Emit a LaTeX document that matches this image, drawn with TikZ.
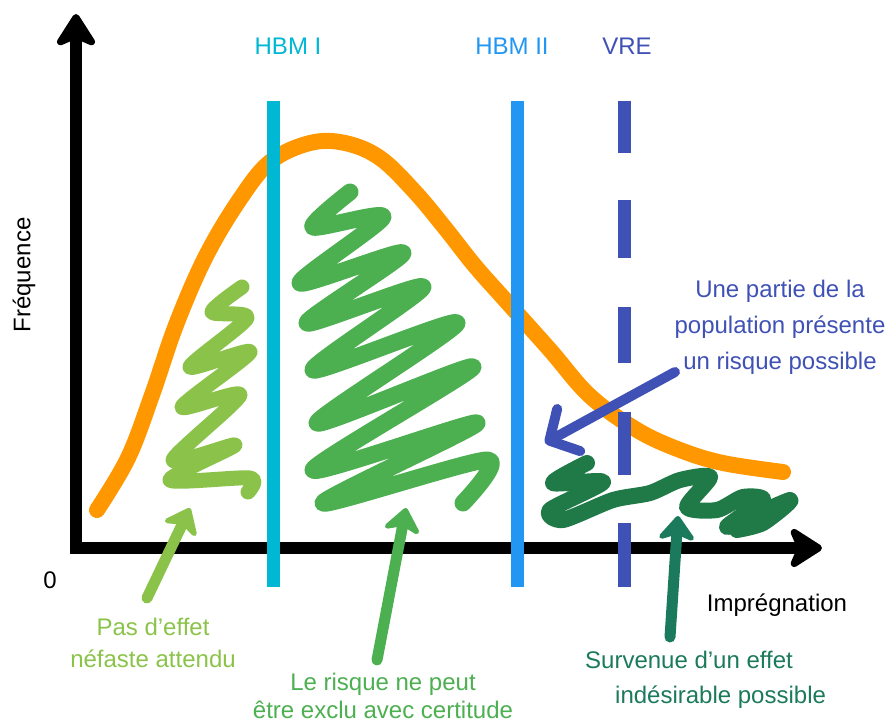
\documentclass[tikz,border=0pt]{standalone}
\usepackage{fontspec}
\setmainfont{Liberation Sans}
\usetikzlibrary{arrows.meta, positioning, calc}

\definecolor{curveorange}{RGB}{255,152,0}
\definecolor{hbmone}{RGB}{0,184,212}
\definecolor{hbmtwo}{RGB}{33,150,243}
\definecolor{vreblue}{RGB}{63,81,181}
\definecolor{lightgrn}{RGB}{139,195,74}
\definecolor{midgrn}{RGB}{76,175,80}
\definecolor{darkgrn}{RGB}{32,122,72}
\definecolor{tealgrn}{RGB}{28,122,92}

\begin{document}
\begin{tikzpicture}[x=1pt, y=-1pt, line join=round]
	%======================
	% STYLES
	%======================
	\tikzset{
		axisline/.style={line width=12pt, black, line join=miter},
		thresh/.style={line width=13pt, line cap=butt},
		scribble/.style={line width=16pt, line cap=round, line join=round},
		pointer/.style={line width=11pt, line cap=round, -{Stealth[round, length=28pt 0 0, width=44pt 0 0, inset=8pt 0 0]}},
		lbl/.style={font=\fontsize{24}{32}\selectfont, inner sep=0pt, align=center}
	}
	
	\useasboundingbox (0,0) rectangle (892,722);
	
	% axes
	\coordinate (O)    at (76,548);
	\coordinate (ytip) at (76,14);
	\coordinate (xtip) at (822,548);
	\draw[axisline, {Stealth[round, length=38pt 0 0, width=48pt 0 0, inset=10pt 0 0]}-{Stealth[round, length=38pt 0 0, width=48pt 0 0, inset=10pt 0 0]}] (ytip) -- (O) -- (xtip);
	
	\node[lbl, rotate=90] (freq) at (24,275) {Fréquence};
	\node[lbl] (zero) at (50,580) {0};
	\node[lbl] (impr) at (777,605) {Imprégnation};
	
	% distribution curve
	\draw[curveorange, line width=16pt, line cap=round] plot[smooth, tension=0.6] coordinates {
		(97,510) (128,458) (152,395) (176,325) (205,258) (238,202)
		(270,162) (310,143) (345,143) (380,158) (415,192) (445,228)
		(475,266) (507,302) (550,350) (590,396) (637,430) (680,450) (723,463) (783,472)};
	
	% scribbles
	\draw[scribble, lightgrn, line width=15pt] plot[smooth, tension=0.45] coordinates {
		(242,287) (212,312) (247,318) (190,367) (250,352) (182,407) (240,395)
		(173,460) (235,445) (170,480) (250,478) (248,492)};
	\draw[scribble, midgrn, line width=17pt] plot[smooth, tension=0.45] coordinates {
		(350,192) (313,227) (383,217) (300,283) (403,253) (307,323) (423,287)
		(313,370) (457,323) (317,423) (473,367) (313,470) (477,423) (323,503)
		(487,460) (463,503)};
	\draw[scribble, darkgrn] plot[smooth, tension=0.45] coordinates {
		(587,463) (553,483) (603,482) (550,510) (563,520) (613,500) (650,493)
		(680,480) (710,477) (687,507) (717,510) (743,497) (763,500) (727,527)
		(790,500) (763,523) (737,530)};
	
	% thresholds
	\coordinate (h1top) at (273,101);
	\coordinate (h1bot) at (273,587);
	\coordinate (h2top) at (517,101);
	\coordinate (h2bot) at (517,587);
	\draw[thresh, hbmone] (h1top) -- (h1bot);
	\draw[thresh, hbmtwo] (h2top) -- (h2bot);
	\foreach \ya/\yb in {101/153, 200/258, 307/363, 412/475, 523/587}
		\draw[thresh, vreblue] (624,\ya) -- (624,\yb);
	
	\node[lbl, text=hbmone] (hbmI) at (288,46) {HBM I};
	\node[lbl, text=hbmtwo] (hbmII) at (512,46) {HBM II};
	\node[lbl, text=vreblue] (vre) at (627,46) {VRE};
	
	% annotations
	\node[lbl, text=lightgrn] (noeff) at (153,643) {Pas d’effet\\néfaste attendu};
	\node[lbl, text=midgrn, font=\fontsize{24}{28}\selectfont] (risk) at (383,696) {Le risque ne peut\\être exclu avec certitude};
	\node[lbl, text=tealgrn, anchor=west, align=left, font=\fontsize{24}{35}\selectfont] (undes) at (585,680) {Survenue d’un effet\\\hspace*{30pt}indésirable possible};
	\node[lbl, text=vreblue, font=\fontsize{24}{36}\selectfont] (part) at (780,327) {Une partie de la\\population présente\\un risque possible};
	
	% arrows
	\coordinate (noeffTail) at (147,598);
	\coordinate (noeffTip)  at (190,508);
	\coordinate (riskTail)  at (377,660);
	\coordinate (riskTip)   at (406,508);
	\coordinate (undesTail) at (670,637);
	\coordinate (undesTip)  at (678,516);
	\coordinate (partTail)  at (675,372);
	\coordinate (partTip)   at (545,443);
	\draw[pointer, lightgrn] (noeffTail) -- (noeffTip);
	\draw[pointer, midgrn] (riskTail) -- (riskTip);
	\draw[pointer, tealgrn] (undesTail) -- (undesTip);
	\draw[line width=10pt, line cap=round, vreblue, -{Straight Barb[round, length=22pt 0 0, width=48pt 0 0]}] (partTail) -- (partTip);
\end{tikzpicture}
\end{document}
